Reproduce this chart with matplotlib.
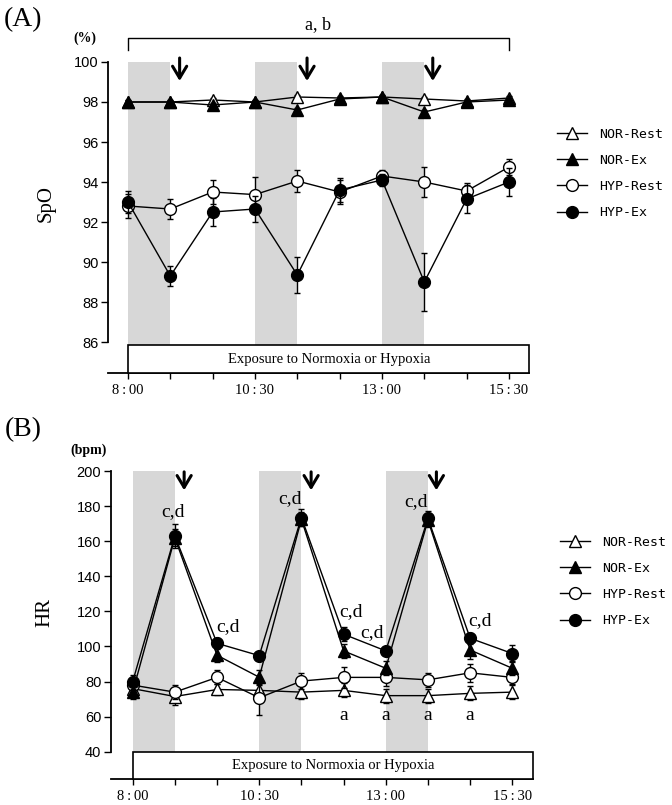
import matplotlib
matplotlib.use('Agg')
import matplotlib.pyplot as plt
from matplotlib.patches import Rectangle

plt.rcParams['font.family'] = ['Liberation Sans', 'DejaVu Sans']

# ---------------- data ----------------
TS = '\u2009'
time_labels = ['8' + TS + ':' + TS + '00', '', '', '10' + TS + ':' + TS + '30', '', '',
               '13' + TS + ':' + TS + '00', '', '', '15' + TS + ':' + TS + '30']
series_names = ['NOR-Rest', 'NOR-Ex', 'HYP-Rest', 'HYP-Ex']

spo2_nor_rest = [98.0, 98.0, 98.1, 98.0, 98.25, 98.2, 98.25, 98.15, 98.05, 98.2]
spo2_nor_ex = [98.0, 98.0, 97.85, 98.0, 97.6, 98.15, 98.25, 97.5, 98.0, 98.1]
spo2_hyp_rest = [92.8, 92.65, 93.5, 93.37, 94.05, 93.5, 94.3, 94.0, 93.55, 94.75]
spo2_hyp_ex = [93.0, 89.3, 92.5, 92.65, 89.35, 93.6, 94.1, 89.0, 93.15, 94.0]
spo2_err_nor_rest = [0.1] * 10
spo2_err_nor_ex = [0.1] * 10
spo2_err_hyp_rest = [0.6, 0.5, 0.6, 0.9, 0.55, 0.6, 0.3, 0.75, 0.4, 0.4]
spo2_err_hyp_ex = [0.55, 0.5, 0.7, 0.65, 0.9, 0.6, 0.3, 1.45, 0.7, 0.7]

hr_nor_rest = [76, 71.5, 75.5, 75, 74, 75, 72, 72, 73.3, 74]
hr_nor_ex = [74, 162, 95, 82.5, 172.5, 97.5, 87.6, 172, 98, 87.6]
hr_hyp_rest = [78, 74, 82.4, 70.8, 80.3, 82.4, 82.4, 81, 85, 82.4]
hr_hyp_ex = [80, 163, 101.8, 94.8, 173.5, 107, 97.5, 173, 104.7, 96]
hr_err_nor_rest = [3, 5, 3, 3, 4, 4, 4, 4, 4, 4]
hr_err_nor_ex = [4, 5, 4, 4, 4, 4, 4, 4, 5, 4]
hr_err_hyp_rest = [4, 4, 4, 10, 4.5, 6, 5, 4, 5, 4]
hr_err_hyp_ex = [4, 7, 3, 2, 5, 4, 2, 4, 3, 5]

# annotation positions (index, value)
hr_cd_x = [0.96, 3.73, 6.72, 2.26, 5.17, 5.67, 8.23]
hr_cd_y = [176.8, 184.4, 182.5, 111.3, 119.8, 107.9, 114.7]
hr_a_x = [5, 6, 7, 8]
hr_a_y = [60.4, 60.4, 60.4, 60.4]

exercise_spans = [(0, 1), (3, 4), (6, 7)]
arrow_x = [1.22, 4.23, 7.2]

W, H = 672, 805
fig = plt.figure(figsize=(W / 100, H / 100), dpi=100)

styles = {
    'NOR-Rest': dict(marker='^', mfc='white', z=3),
    'HYP-Rest': dict(marker='o', mfc='white', z=4),
    'NOR-Ex': dict(marker='^', mfc='black', z=5),
    'HYP-Ex': dict(marker='o', mfc='black', z=6),
}

def fx(px):
    return px / W

def fy(py):
    return 1 - py / H

SERIF = ['Liberation Serif', 'DejaVu Serif']


def draw_panel(ax, vals, errs, xlim, ylim, ybot, ytop, ystep, boxtop, arrow_top, arrow_tip):
    x = list(range(len(time_labels)))
    handles = {}
    for name in ['NOR-Rest', 'HYP-Rest', 'NOR-Ex', 'HYP-Ex']:
        st = styles[name]
        c = ax.errorbar(x, vals[name], yerr=errs[name], color='black', lw=1.0,
                        elinewidth=1.0, capsize=2.5, capthick=1.0,
                        marker=st['marker'], ms=8.5, mfc=st['mfc'], mec='black',
                        mew=1.0, zorder=st['z'])
        handles[name] = c.lines[0]
    for a, b in exercise_spans:
        ax.add_patch(Rectangle((a, boxtop), b - a, ytop - boxtop,
                               facecolor='#d7d7d7', edgecolor='none', zorder=0))
    ax.add_patch(Rectangle((0, ylim[0]), xlim[1], boxtop - ylim[0],
                           facecolor='white', edgecolor='black', lw=1.2,
                           zorder=7, clip_on=False))
    ax.text(4.75, (ylim[0] + boxtop) / 2, 'Exposure to Normoxia or Hypoxia',
            ha='center', va='center', fontsize=10.5, family=SERIF, zorder=8)
    ax.set_xlim(*xlim)
    ax.set_ylim(*ylim)
    ax.spines['top'].set_visible(False)
    ax.spines['right'].set_visible(False)
    ax.spines['left'].set_bounds(ybot, ytop)
    ax.spines['left'].set_linewidth(1.3)
    ax.spines['bottom'].set_linewidth(1.3)
    yt = []
    v = ybot
    while v <= ytop + 1e-9:
        yt.append(v)
        v += ystep
    ax.set_yticks(yt)
    ax.set_yticklabels([('%g' % t) for t in yt])
    ax.set_xticks(x)
    ax.set_xticklabels(time_labels, family=SERIF, fontsize=10.5)
    ax.tick_params(axis='y', length=5, width=1, labelsize=10.5, pad=2)
    ax.tick_params(axis='x', length=4, width=1, pad=4)
    for xa in arrow_x:
        ax.annotate('', xy=(xa, arrow_tip), xytext=(xa, arrow_top),
                    arrowprops=dict(arrowstyle='->, head_length=0.5, head_width=0.3',
                                    lw=2.2, color='black', mutation_scale=17,
                                    shrinkA=0, shrinkB=0),
                    annotation_clip=False)
    return handles

# ---------------- panel A ----------------
axA = fig.add_axes([fx(108), fy(373), fx(529) - fx(108), fy(62) - fy(373)])
valsA = {'NOR-Rest': spo2_nor_rest, 'NOR-Ex': spo2_nor_ex,
         'HYP-Rest': spo2_hyp_rest, 'HYP-Ex': spo2_hyp_ex}
errsA = {'NOR-Rest': spo2_err_nor_rest, 'NOR-Ex': spo2_err_nor_ex,
         'HYP-Rest': spo2_err_hyp_rest, 'HYP-Ex': spo2_err_hyp_ex}
hA = draw_panel(axA, valsA, errsA, (-0.472, 9.473), (84.45, 100), 86, 100, 2, 85.85,
                100.2, 99.05)
axA.plot([0, 0, 9, 9], [100.6, 101.2, 101.2, 100.6], color='black', lw=1.0,
         clip_on=False)
axA.text(4.49, 101.85, 'a, b', ha='center', va='center', fontsize=13, family=SERIF)
axA.legend([hA[n] for n in series_names], series_names, loc='center left',
           bbox_to_anchor=(fx(557), fy(173.5)), bbox_transform=fig.transFigure,
           frameon=False, borderpad=0, borderaxespad=0, handlelength=2.3,
           handletextpad=0.9, labelspacing=1.0,
           prop={'family': 'DejaVu Sans Mono', 'size': 9.5})

fig.text(fx(23), fy(20), '(A)', fontsize=20, family=SERIF, ha='center', va='center')
fig.text(fx(85), fy(38), '(%)', fontsize=10, family=SERIF, ha='center', va='center',
         weight='bold')
fig.text(fx(46), fy(204), 'SpO', fontsize=15, family=SERIF, ha='center', va='center',
         rotation=90)

# ---------------- panel B ----------------
axB = fig.add_axes([fx(111), fy(779), fx(532.7) - fx(111), fy(471) - fy(779)])
valsB = {'NOR-Rest': hr_nor_rest, 'NOR-Ex': hr_nor_ex,
         'HYP-Rest': hr_hyp_rest, 'HYP-Ex': hr_hyp_ex}
errsB = {'NOR-Rest': hr_err_nor_rest, 'NOR-Ex': hr_err_nor_ex,
         'HYP-Rest': hr_err_hyp_rest, 'HYP-Ex': hr_err_hyp_ex}
hB = draw_panel(axB, valsB, errsB, (-0.514, 9.483), (24.5, 200), 40, 200, 20, 40,
                199.5, 189.0)
for xx, yy in zip(hr_cd_x, hr_cd_y):
    axB.text(xx, yy, 'c,d', ha='center', va='center', fontsize=14, family=SERIF,
             zorder=9)
for xx, yy in zip(hr_a_x, hr_a_y):
    axB.text(xx, yy, 'a', ha='center', va='center', fontsize=14, family=SERIF,
             zorder=9)
axB.legend([hB[n] for n in series_names], series_names, loc='center left',
           bbox_to_anchor=(fx(560), fy(581.5)), bbox_transform=fig.transFigure,
           frameon=False, borderpad=0, borderaxespad=0, handlelength=2.3,
           handletextpad=0.9, labelspacing=1.0,
           prop={'family': 'DejaVu Sans Mono', 'size': 9.5})

fig.text(fx(23), fy(430), '(B)', fontsize=20, family=SERIF, ha='center', va='center')
fig.text(fx(89), fy(450), '(bpm)', fontsize=10, family=SERIF, ha='center', va='center',
         weight='bold')
fig.text(fx(45), fy(612), 'HR', fontsize=15, family=SERIF, ha='center', va='center',
         rotation=90)

fig.savefig('out.png', dpi=100)
